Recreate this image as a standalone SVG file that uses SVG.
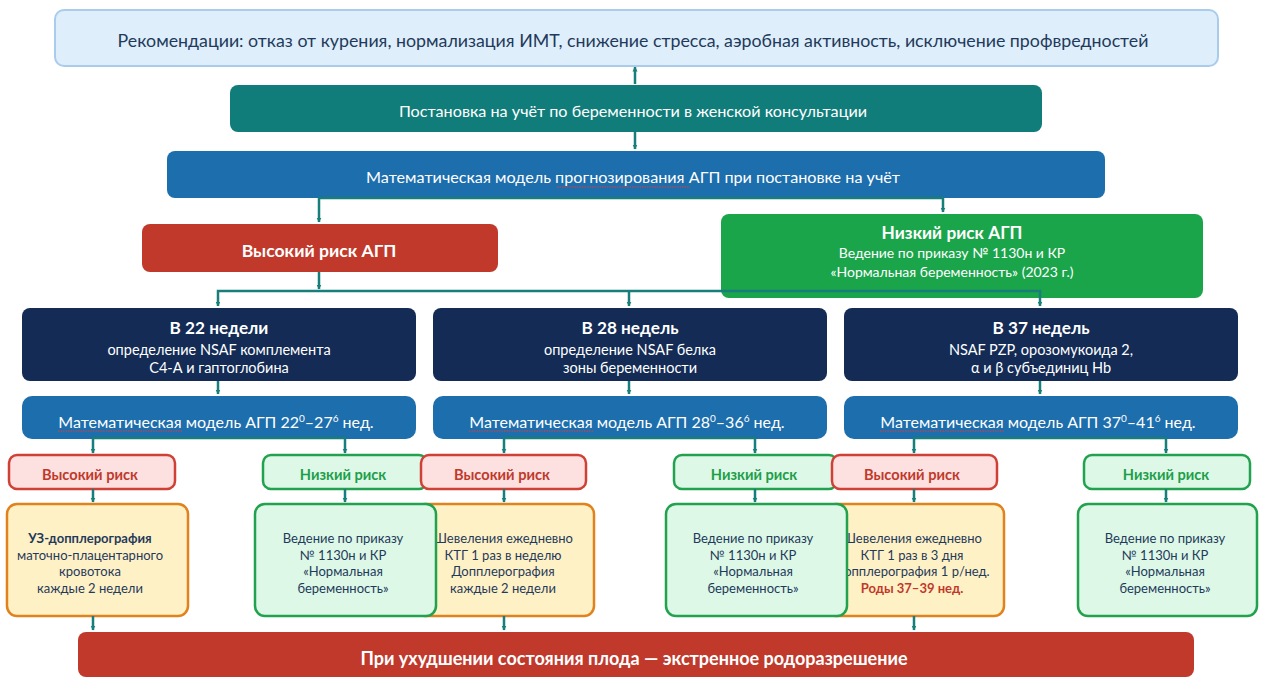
<svg xmlns="http://www.w3.org/2000/svg" width="1267" height="677" viewBox="0 0 1267 677">
<defs>
<marker id="ah" viewBox="0 0 10 10" refX="9" refY="5" markerWidth="5" markerHeight="10" markerUnits="userSpaceOnUse" orient="auto">
<path d="M0,0 L10,5 L0,10 z" fill="#177E7B"/>
</marker>
<style>
text{font-family:Lato,"Open Sans","Liberation Sans",sans-serif;text-anchor:middle}
.w{fill:#ffffff}
.b{font-weight:700}
.dk{fill:#1F3A5A}
.navy{fill:#132B55}
.model{fill:#1D6EAD}
.hi{fill:#FDE1E1;stroke:#CF4137;stroke-width:2.5}
.lo{fill:#DDF8E6;stroke:#22A24F;stroke-width:2.5}
.ye{fill:#FFF1C6;stroke:#E0821E;stroke-width:2.5}
.hit{fill:#C0392B;font-weight:700;font-size:14.6px}
.lot{fill:#1E9E4A;font-weight:700;font-size:14.6px}
.ct{font-size:13px;fill:#1F3A5A}
.conn path{fill:none;stroke:#177E7B;stroke-width:2.5;marker-end:url(#ah)}
.sq{stroke:#E03C3C;stroke-width:1;stroke-dasharray:1.5 1;fill:none}
</style>
</defs>

<g id="rec">
<rect x="55" y="10" width="1163" height="56" rx="9" fill="#DEEEFA" stroke="#A9CCEC" stroke-width="2"/>
<text x="633" y="47" font-size="17.8" class="dk">Рекомендации: отказ от курения, нормализация ИМТ, снижение стресса, аэробная активность, исключение профвредностей</text>
</g>

<g id="registration">
<rect x="230" y="85" width="812" height="47" rx="8" fill="#117D7A"/>
<text x="633" y="117" font-size="16.2" class="w">Постановка на учёт по беременности в женской консультации</text>
</g>

<g id="model-main">
<rect x="167" y="151" width="938" height="47" rx="8" fill="#1D6EAD"/>
<text x="633" y="183" font-size="16.2" class="w">Математическая модель прогнозирования АГП при постановке на учёт</text>
<path class="sq" d="M557,187 H690"/>
</g>

<g id="high-risk-main">
<rect x="142" y="224" width="356" height="48" rx="8" fill="#C0392B"/>
<text x="319" y="257" font-size="17.6" class="w b">Высокий риск АГП</text>
</g>

<g id="low-risk-main">
<rect x="721" y="214" width="482" height="84" rx="8" fill="#1BA54B"/>
<text x="952" y="239" font-size="17.3" class="w b">Низкий риск АГП</text>
<text x="952" y="258" font-size="14" class="w">Ведение по приказу № 1130н и КР</text>
<text x="952" y="277" font-size="14" class="w">«Нормальная беременность» (2023 г.)</text>
</g>

<g id="w22">
<rect x="22" y="308" width="394" height="73" rx="8" class="navy"/>
<text x="219" y="334" font-size="17.2" class="w b">В 22 недели</text>
<text x="219" y="355" font-size="14.5" class="w">определение NSAF комплемента</text>
<text x="219" y="373" font-size="14.5" class="w">С4-А и гаптоглобина</text>
</g>
<g id="w28">
<rect x="433" y="308" width="394" height="73" rx="8" class="navy"/>
<text x="630" y="334" font-size="17.2" class="w b">В 28 недель</text>
<text x="630" y="355" font-size="14.5" class="w">определение NSAF белка</text>
<text x="630" y="373" font-size="14.5" class="w">зоны беременности</text>
</g>
<g id="w37">
<rect x="844" y="308" width="394" height="73" rx="8" class="navy"/>
<text x="1041" y="334" font-size="17.2" class="w b">В 37 недель</text>
<text x="1041" y="355" font-size="14.5" class="w">NSAF PZP, орозомукоида 2,</text>
<text x="1041" y="373" font-size="14.5" class="w">α и β субъединиц Hb</text>
</g>

<g id="model22">
<rect x="22" y="396" width="394" height="43" rx="10" class="model"/>
<text x="216" y="428" font-size="16" class="w">Математическая модель АГП 22<tspan dy="-6" font-size="10">0</tspan><tspan dy="6">–27</tspan><tspan dy="-6" font-size="10">6</tspan><tspan dy="6"> нед.</tspan></text>
<path class="sq" d="M58,431 H182"/>
</g>
<g id="model28">
<rect x="433" y="396" width="394" height="43" rx="10" class="model"/>
<text x="627" y="428" font-size="16" class="w">Математическая модель АГП 28<tspan dy="-6" font-size="10">0</tspan><tspan dy="6">–36</tspan><tspan dy="-6" font-size="10">6</tspan><tspan dy="6"> нед.</tspan></text>
<path class="sq" d="M469,431 H593"/>
</g>
<g id="model37">
<rect x="844" y="396" width="394" height="43" rx="10" class="model"/>
<text x="1038" y="428" font-size="16" class="w">Математическая модель АГП 37<tspan dy="-6" font-size="10">0</tspan><tspan dy="6">–41</tspan><tspan dy="-6" font-size="10">6</tspan><tspan dy="6"> нед.</tspan></text>
<path class="sq" d="M880,431 H1004"/>
</g>

<g id="low22">
<rect x="263" y="455" width="164" height="34" rx="8" class="lo"/>
<text x="343" y="480" class="lot">Низкий риск</text>
</g>
<g id="low28">
<rect x="674" y="455" width="163" height="34" rx="8" class="lo"/>
<text x="754" y="480" class="lot">Низкий риск</text>
</g>
<g id="low37">
<rect x="1084" y="455" width="166" height="34" rx="8" class="lo"/>
<text x="1166" y="480" class="lot">Низкий риск</text>
</g>
<g id="high22">
<rect x="9" y="455" width="166" height="34" rx="8" class="hi"/>
<text x="90" y="480" class="hit">Высокий риск</text>
</g>
<g id="high28">
<rect x="421" y="455" width="165" height="34" rx="8" class="hi"/>
<text x="502" y="480" class="hit">Высокий риск</text>
</g>
<g id="high37">
<rect x="832" y="455" width="165" height="34" rx="8" class="hi"/>
<text x="912" y="480" class="hit">Высокий риск</text>
</g>

<g id="plan-high22">
<rect x="7" y="504" width="181" height="112" rx="10" class="ye"/>
<text x="90" y="543" class="ct b">УЗ-допплерография</text>
<text x="90" y="559.5" class="ct">маточно-плацентарного</text>
<text x="90" y="576" class="ct">кровотока</text>
<text x="90" y="592.5" class="ct">каждые 2 недели</text>
</g>
<g id="plan-high28">
<rect x="415" y="504" width="179" height="112" rx="10" class="ye"/>
<text x="503" y="543" class="ct">Шевеления ежедневно</text>
<text x="503" y="559.5" class="ct">КТГ 1 раз в неделю</text>
<text x="503" y="576" class="ct">Допплерография</text>
<text x="503" y="592.5" class="ct">каждые 2 недели</text>
</g>
<g id="plan-high37">
<rect x="826" y="504" width="178" height="112" rx="10" class="ye"/>
<text x="912" y="543" class="ct">Шевеления ежедневно</text>
<text x="912" y="559.5" class="ct">КТГ 1 раз в 3 дня</text>
<text x="912" y="576" class="ct">Допплерография 1 р/нед.</text>
<text x="912" y="592.5" class="ct b" style="fill:#C0392B">Роды 37–39 нед.</text>
</g>
<g id="plan-low22">
<rect x="255" y="504" width="181" height="112" rx="10" class="lo"/>
<text x="343" y="543" class="ct">Ведение по приказу</text>
<text x="343" y="559.5" class="ct">№ 1130н и КР</text>
<text x="343" y="576" class="ct">«Нормальная</text>
<text x="343" y="592.5" class="ct">беременность»</text>
</g>
<g id="plan-low28">
<rect x="666" y="504" width="181" height="112" rx="10" class="lo"/>
<text x="753" y="543" class="ct">Ведение по приказу</text>
<text x="753" y="559.5" class="ct">№ 1130н и КР</text>
<text x="753" y="576" class="ct">«Нормальная</text>
<text x="753" y="592.5" class="ct">беременность»</text>
</g>
<g id="plan-low37">
<rect x="1078" y="504" width="179" height="112" rx="10" class="lo"/>
<text x="1165" y="543" class="ct">Ведение по приказу</text>
<text x="1165" y="559.5" class="ct">№ 1130н и КР</text>
<text x="1165" y="576" class="ct">«Нормальная</text>
<text x="1165" y="592.5" class="ct">беременность»</text>
</g>

<g id="emergency">
<rect x="78" y="632" width="1116" height="45" rx="8" fill="#C0392B"/>
<text x="634" y="665" font-size="18" class="w b">При ухудшении состояния плода — экстренное родоразрешение</text>
</g>

<g id="connectors" class="conn">
<path d="M635,84 V67"/>
<path d="M635,132 V149"/>
<path d="M631,198 H319 V222"/>
<path d="M631,198 H943 V212"/>
<path d="M319,272 V289"/>
<path d="M629,291 H218 V306"/>
<path d="M629,291 V306"/>
<path d="M629,291 H1040 V306"/>
<path d="M218,381 V394"/>
<path d="M629,381 V394"/>
<path d="M1040,381 V394"/>
<path d="M219,438 H93 V453"/>
<path d="M219,438 H345 V453"/>
<path d="M630,438 H504 V453"/>
<path d="M630,438 H755 V453"/>
<path d="M1041,438 H914 V453"/>
<path d="M1041,438 H1166 V453"/>
<path d="M93,489 V502"/>
<path d="M345,489 V502"/>
<path d="M504,489 V502"/>
<path d="M755,489 V502"/>
<path d="M914,489 V502"/>
<path d="M1166,489 V502"/>
<path d="M93,616 V630"/>
<path d="M504,616 V630"/>
<path d="M914,616 V630"/>
</g>
</svg>
